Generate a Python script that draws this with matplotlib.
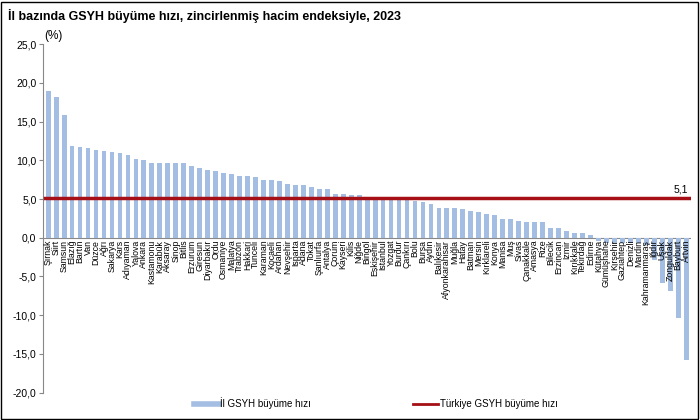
import numpy as np
import matplotlib.pyplot as plt
from matplotlib.lines import Line2D
from matplotlib.patches import Rectangle

plt.rcParams['font.family'] = ['Liberation Sans', 'DejaVu Sans']

iller = ["Şırnak", "Siirt", "Samsun", "Elazığ", "Bartın", "Van", "Düzce", "Ağrı", "Sakarya", "Kars",
         "Adıyaman", "Yalova", "Ankara", "Kastamonu", "Karabük", "Aksaray", "Sinop", "Bitlis", "Erzurum", "Giresun",
         "Diyarbakır", "Ordu", "Osmaniye", "Malatya", "Trabzon", "Hakkari", "Tunceli", "Karaman", "Kocaeli", "Ardahan",
         "Nevşehir", "Isparta", "Adana", "Tokat", "Şanlıurfa", "Antalya", "Çorum", "Kayseri", "Kilis", "Niğde",
         "Bingöl", "Eskişehir", "İstanbul", "Yozgat", "Burdur", "Çankırı", "Bolu", "Bursa", "Aydın", "Balıkesir",
         "Afyonkarahisar", "Muğla", "Hatay", "Batman", "Mersin", "Kırklareli", "Konya", "Manisa", "Muş", "Sivas",
         "Çanakkale", "Amasya", "Rize", "Bilecik", "Erzincan", "İzmir", "Kırıkkale", "Tekirdağ", "Edirne", "Kütahya",
         "Gümüşhane", "Kırşehir", "Gaziantep", "Denizli", "Mardin", "Kahramanmaraş", "Iğdır", "Uşak", "Zonguldak", "Bayburt",
         "Artvin"]

buyume = [18.9, 18.2, 15.8, 11.9, 11.7, 11.6, 11.3, 11.2, 11.1, 11.0,
          10.7, 10.2, 10.0, 9.7, 9.7, 9.6, 9.6, 9.6, 9.3, 9.0,
          8.8, 8.6, 8.4, 8.2, 8.0, 8.0, 7.9, 7.5, 7.5, 7.3,
          7.0, 6.8, 6.8, 6.5, 6.3, 6.3, 5.7, 5.7, 5.5, 5.5,
          5.1, 5.1, 5.0, 5.0, 5.0, 5.0, 4.8, 4.6, 4.4, 3.9,
          3.9, 3.8, 3.7, 3.5, 3.3, 3.1, 2.9, 2.4, 2.4, 2.2,
          2.0, 2.0, 2.0, 1.3, 1.2, 0.9, 0.6, 0.6, 0.35, -0.4,
          -0.7, -0.7, -0.7, -0.7, -0.7, -0.9, -2.9, -5.9, -6.9, -10.4,
          -15.8]

turkiye = 5.1

fig = plt.figure(figsize=(7, 4.2), dpi=100)
ax = fig.add_axes([0.062, 0.065, 0.925, 0.83])

x = np.arange(len(iller))
ax.bar(x, buyume, width=0.6, color='#a3bde3', zorder=2)
ax.plot([x[0] - 0.4, x[-1] + 0.4], [turkiye, turkiye], color='#a50f15', linewidth=2.5, zorder=3)
ax.text(x[-1] + 0.3, turkiye + 0.5, "5,1", ha='right', va='bottom', fontsize=7.5)

for i, il in enumerate(iller):
    ax.text(i, -0.25, il, rotation=90, ha='center', va='top', fontsize=6.3, zorder=4)

ax.axhline(0, color='#888888', linewidth=0.8, zorder=1)
ax.set_xlim(-0.6, len(iller) - 0.4)
ax.set_ylim(-20, 25)
yt = np.arange(-20, 26, 5)
ax.set_yticks(yt)
ax.set_yticklabels([f"{v:.1f}".replace('.', ',') for v in yt], fontsize=7.5)
ax.set_xticks([])
for s in ['top', 'right', 'bottom']:
    ax.spines[s].set_visible(False)
ax.spines['left'].set_color('#888888')
ax.tick_params(axis='y', length=3, color='#888888', pad=2)
ax.text(-0.5, 25.3, "(%)", fontsize=8.5, ha='left', va='bottom')

fig.text(0.012, 0.962, "İl bazında GSYH büyüme hızı, zincirlenmiş hacim endeksiyle, 2023",
         fontsize=9, fontweight='bold', ha='left', va='center')

handles = [Line2D([0], [0], color='#a3bde3', linewidth=4),
           Line2D([0], [0], color='#a50f15', linewidth=2)]
fig.legend(handles, ["İl GSYH büyüme hızı", "Türkiye GSYH büyüme hızı"],
           loc='center', bbox_to_anchor=(0.537, 0.04), ncol=2, frameon=False,
           fontsize=7, columnspacing=10.5, handlelength=2.5, handletextpad=0.2)

fig.patches.append(Rectangle((0.002, 0.003), 0.995, 0.993, transform=fig.transFigure,
                             fill=False, edgecolor='black', linewidth=1))

fig.savefig("out.png", dpi=100)
